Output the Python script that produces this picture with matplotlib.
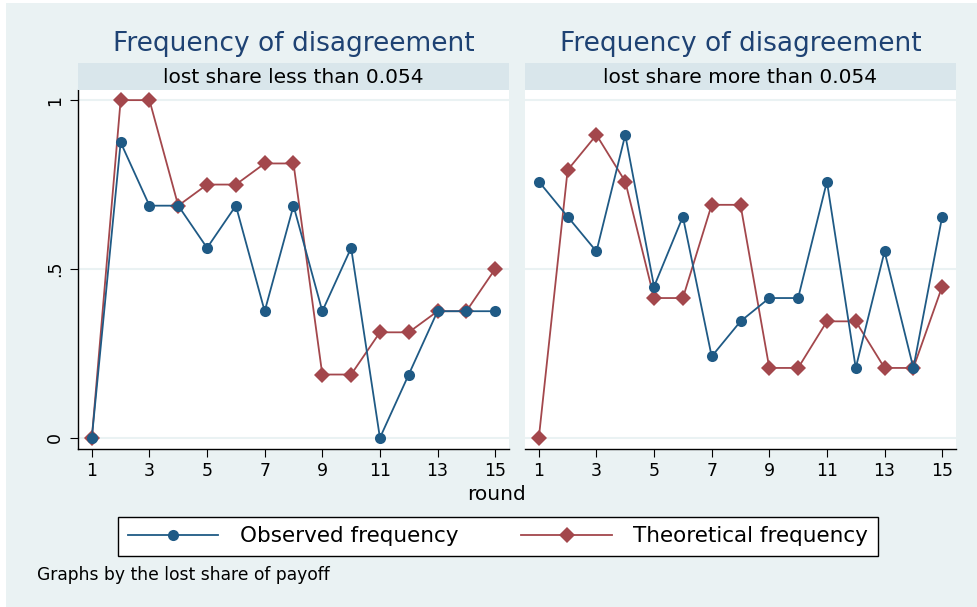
import matplotlib
matplotlib.use('Agg')
import matplotlib.pyplot as plt
from matplotlib.lines import Line2D
from matplotlib.patches import Rectangle

# DejaVu is wider than Arial, closer to the stretched look of the original
plt.rcParams['font.family'] = ['DejaVu Sans']

#----------------------------------------
# Data
rounds = list(range(1, 16))
panel_labels = ['lost share less than 0.054', 'lost share more than 0.054']
panel_title = 'Frequency of disagreement'

observed_low = [0, 0.875, 0.6875, 0.6875, 0.5625, 0.6875, 0.375, 0.6875,
                0.375, 0.5625, 0, 0.1875, 0.375, 0.375, 0.375]
theory_low = [0, 1, 1, 0.6875, 0.75, 0.75, 0.8125, 0.8125,
              0.1875, 0.1875, 0.3125, 0.3125, 0.375, 0.375, 0.5]

observed_high = [0.759, 0.655, 0.552, 0.897, 0.448, 0.655, 0.241, 0.345,
                 0.414, 0.414, 0.759, 0.207, 0.552, 0.207, 0.655]
theory_high = [0, 0.793, 0.897, 0.759, 0.414, 0.414, 0.690, 0.690,
               0.207, 0.207, 0.345, 0.345, 0.207, 0.207, 0.448]

xticks = [1, 3, 5, 7, 9, 11, 13, 15]
yticks = [0, 0.5, 1]
ytick_labels = ['0', '.5', '1']

# Stata s2color-like palette
BG = '#eaf2f3'
STRIP = '#d9e6eb'
NAVY = '#1f5a85'
MAROON = '#a3474c'
TITLE_COLOR = '#1e4273'

W, H = 977, 607
fig = plt.figure(figsize=(W / 100, H / 100), dpi=100)
fig.patch.set_facecolor('white')
fig.patches.append(Rectangle((6 / W, 0), 1 - 6 / W, 1 - 3 / H,
                             transform=fig.transFigure, facecolor=BG,
                             edgecolor='none', zorder=-10))


def px_box(x0, y0, x1, y1):
  """Pixel box (top-left origin) to figure-fraction [l, b, w, h]."""
  return [x0 / W, 1 - y1 / H, (x1 - x0) / W, (y1 - y0) / H]


panels = [
    (78, 509, observed_low, theory_low, panel_labels[0], True),
    (525, 956, observed_high, theory_high, panel_labels[1], False),
]

for x0, x1, obs, theo, label, show_y in panels:
  ax = fig.add_axes(px_box(x0, 90, x1, 449))
  ax.set_facecolor('white')
  ax.set_xlim(0.52, 15.48)
  ax.set_ylim(-0.033, 1.03)
  for y in yticks:
    ax.axhline(y, color=BG, lw=1.5, zorder=0)
  ax.plot(rounds, obs, color=NAVY, lw=1.3, marker='o', ms=8,
          markeredgewidth=0, zorder=3)
  ax.plot(rounds, theo, color=MAROON, lw=1.3, marker='D', ms=8,
          markeredgewidth=0, zorder=2)
  ax.set_xticks(xticks)
  ax.tick_params(axis='x', labelsize=12.5, length=6, width=0.8, pad=3)
  for side in ['top', 'right']:
    ax.spines[side].set_visible(False)
  ax.spines['bottom'].set_linewidth(1.0)
  if show_y:
    ax.set_yticks(yticks)
    ax.set_yticklabels(ytick_labels, rotation=90, va='center')
    ax.tick_params(axis='y', labelsize=12.5, length=6, width=0.8, pad=4)
    ax.spines['left'].set_linewidth(1.0)
  else:
    ax.set_yticks([])
    ax.spines['left'].set_visible(False)

  # strip with panel label
  strip = fig.add_axes(px_box(x0, 63, x1, 90))
  strip.set_facecolor(STRIP)
  strip.set_xticks([])
  strip.set_yticks([])
  for s in strip.spines.values():
    s.set_visible(False)
  strip.text(0.5, 0.48, label, ha='center', va='center', fontsize=14.5,
             color='black', transform=strip.transAxes)

  # panel title
  fig.text((x0 + x1) / 2 / W, 1 - 44 / H, panel_title, ha='center',
           va='center', fontsize=19, color=TITLE_COLOR)

fig.text(497 / W, 1 - 495 / H, 'round', ha='center', va='center',
         fontsize=14.5)

handles = [
    Line2D([], [], color=NAVY, lw=1.3, marker='o', ms=8, markeredgewidth=0),
    Line2D([], [], color=MAROON, lw=1.3, marker='D', ms=8,
           markeredgewidth=0),
]
leg = fig.legend(handles, ['Observed frequency', 'Theoretical frequency'],
                 loc='center', ncol=2, mode='expand',
                 bbox_to_anchor=(118 / W, 1 - 556 / H, 760 / W, 39 / H),
                 borderaxespad=0,
                 fontsize=15.5, handlelength=4.2, handletextpad=1.0,
                 columnspacing=1.8, borderpad=0.45, frameon=True,
                 fancybox=False, edgecolor='black', framealpha=1)
leg.get_frame().set_linewidth(1.0)

fig.text(37 / W, 1 - 575 / H, 'Graphs by the lost share of payoff',
         ha='left', va='center', fontsize=12.3)

fig.savefig('out.png', dpi=100, facecolor=fig.get_facecolor())
